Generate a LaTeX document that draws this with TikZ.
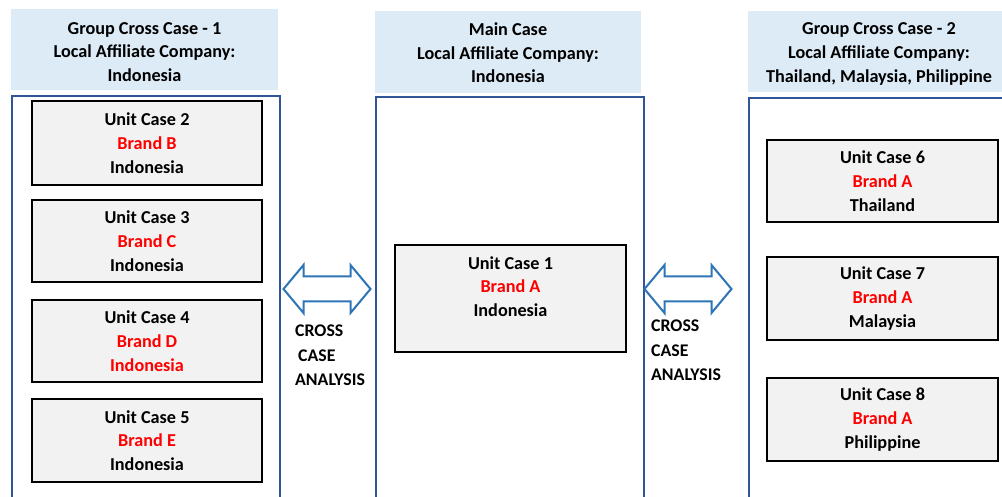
\documentclass[tikz,border=0pt]{standalone}
\usepackage{fontspec}
\setmainfont{Carlito}
\definecolor{hdrblue}{HTML}{DDEBF7}
\definecolor{panelblue}{HTML}{2F5597}
\definecolor{arrowblue}{HTML}{2E75B6}
\definecolor{boxgray}{HTML}{F2F2F2}
\definecolor{brandred}{HTML}{FF0000}
\tikzset{
  headerbox/.style={fill=hdrblue, inner sep=0pt},
  headertext/.style={align=center, inner sep=0pt, font=\fontsize{18.2}{23.6}\selectfont\bfseries},
  panel/.style={draw=panelblue, line width=2.2pt, inner sep=0pt},
  unitbox/.style={draw=black, line width=2pt, fill=boxgray, align=center, inner sep=0pt,
     minimum width=230pt, minimum height=83pt, font=\fontsize{18.2}{23.8}\selectfont\bfseries},
  crosslabel/.style={align=left, anchor=north west, inner sep=0pt, font=\fontsize{17.8}{24.5}\selectfont\bfseries},
  arrowline/.style={draw=arrowblue, line width=2pt, fill=white, line join=miter},
  dblarrow/.pic={
    \path[arrowline] (-43.5,0) -- (-23.5,-24) -- (-23.5,-12.5) -- (23.5,-12.5) -- (23.5,-24)
      -- (43.5,0) -- (23.5,24) -- (23.5,12.5) -- (-23.5,12.5) -- (-23.5,24) -- cycle;
    \coordinate (-west) at (-43.5,0);
    \coordinate (-east) at (43.5,0);
  }
}
\newcommand{\br}[1]{\textcolor{brandred}{#1}}
\begin{document}
\begin{tikzpicture}[x=1pt,y=-1pt]
\useasboundingbox (0,0) rectangle (1002,497);
\clip (0,0) rectangle (1002,497);
% headers
\node[headerbox, minimum width=267pt, minimum height=81pt] (h1) at (144.5,49.5) {};
\node[headertext] (h1t) at ([yshift=-2.5pt]h1.center)
  {Group Cross Case - 1\\Local Affiliate Company:\\Indonesia};
\node[headerbox, minimum width=266pt, minimum height=82pt] (h2) at (508,52) {};
\node[headertext] (h2t) at ([yshift=-1pt]h2.center)
  {Main Case\\Local Affiliate Company:\\Indonesia};
\node[headerbox, minimum width=262pt, minimum height=81pt] (h3) at (879,51.5) {};
\node[headertext] (h3t) at ([yshift=-2.5pt]h3.center)
  {Group Cross Case - 2\\Local Affiliate Company:\\Thailand, Malaysia, Philippine};
% panels
\node[panel, minimum width=268pt, minimum height=420pt, anchor=north west] (p1) at (11,95) {};
\node[panel, minimum width=268pt, minimum height=420pt, anchor=north west] (p2) at (375,96) {};
\node[panel, minimum width=270pt, minimum height=420pt, anchor=north west] (p3) at (748,97) {};
% left unit cases
\node[unitbox, minimum height=84pt] (u2) at (147,143) {Unit Case 2\\\br{Brand B}\\Indonesia};
\node[unitbox, minimum height=82pt] (u3) at (147,241) {Unit Case 3\\\br{Brand C}\\Indonesia};
\node[unitbox, minimum height=82pt] (u4) at (147,341) {Unit Case 4\\\br{Brand D}\\\br{Indonesia}};
\node[unitbox] (u5) at (147,440.5) {Unit Case 5\\\br{Brand E}\\Indonesia};
% main case
\node[unitbox, minimum width=231pt, minimum height=107pt] (u1) at (510.5,298.5) {Unit Case 1\\\br{Brand A}\\Indonesia\\\mbox{}};
% right unit cases
\node[unitbox, minimum width=231pt, minimum height=82pt] (u6) at (882.5,181) {Unit Case 6\\\br{Brand A}\\Thailand};
\node[unitbox, minimum width=231pt] (u7) at (882.5,298.5) {Unit Case 7\\\br{Brand A}\\Malaysia};
\node[unitbox, minimum width=231pt] (u8) at (882.5,419.5) {Unit Case 8\\\br{Brand A}\\Philippine};
% cross case arrows
\pic (arrL) at (327,289) {dblarrow};
\pic (arrR) at (688,289) {dblarrow};
\node[crosslabel] (cl1) at (295,325) {CROSS\\\hspace*{3pt}CASE\\ANALYSIS};
\node[crosslabel] (cl2) at (651,320) {CROSS\\CASE\\ANALYSIS};
\end{tikzpicture}
\end{document}
